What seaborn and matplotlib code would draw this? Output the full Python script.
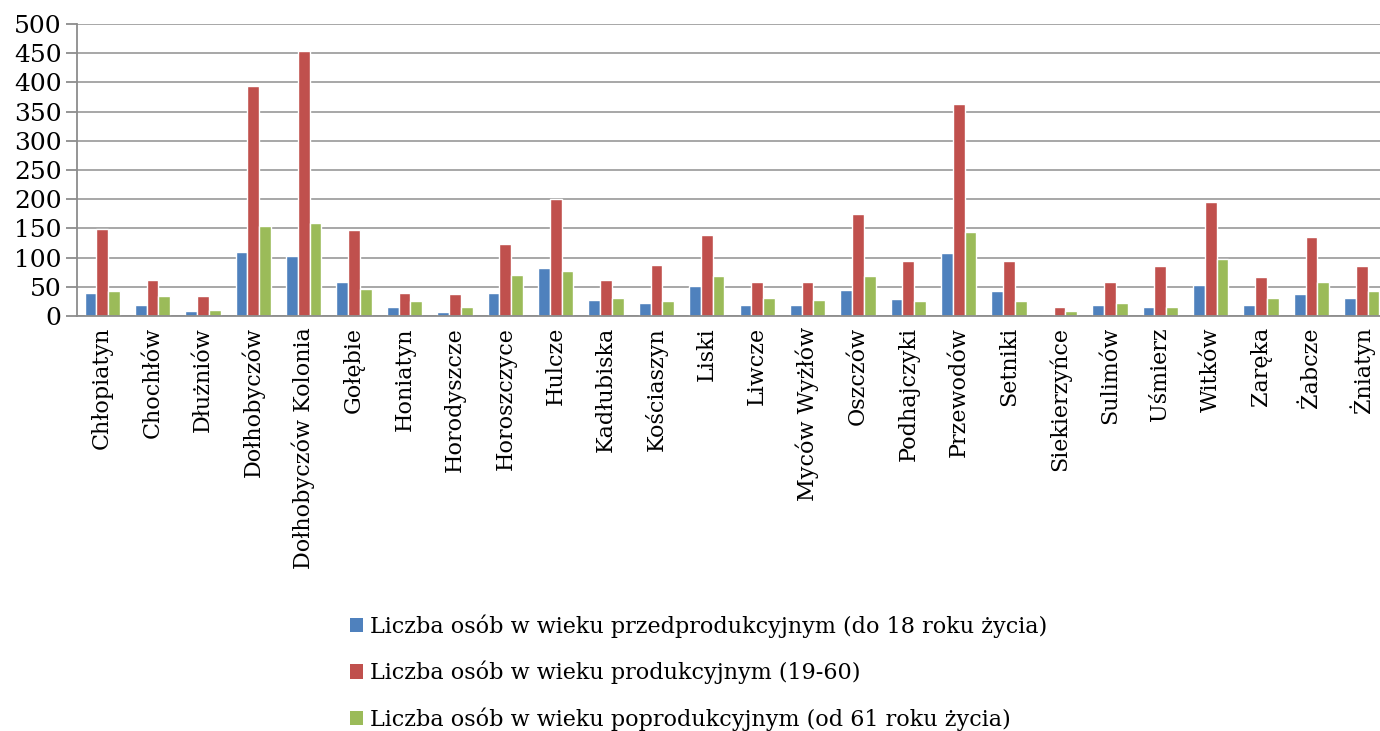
import matplotlib
matplotlib.use("Agg")
import matplotlib.pyplot as plt
import seaborn as sns
import pandas as pd
import numpy as np
from matplotlib.patches import Patch

# data
villages = ["Chłopiatyn", "Chochłów", "Dłużniów", "Dołhobyczów", "Dołhobyczów Kolonia",
            "Gołębie", "Honiatyn", "Horodyszcze", "Horoszczyce", "Hulcze", "Kadłubiska",
            "Kościaszyn", "Liski", "Liwcze", "Myców Wyżłów", "Oszczów", "Podhajczyki",
            "Przewodów", "Setniki", "Siekierzyńce", "Sulimów", "Uśmierz", "Witków",
            "Zaręka", "Żabcze", "Żniatyn"]
przed = [40, 18, 9, 110, 102, 59, 16, 7, 40, 83, 27, 22, 51, 18, 18, 45, 29,
         108, 42, 0, 18, 16, 53, 18, 38, 31]
prod = [149, 62, 34, 393, 453, 148, 40, 37, 123, 200, 62, 88, 139, 59, 59, 174, 95,
        363, 95, 16, 58, 86, 196, 66, 136, 86]
poprod = [42, 35, 11, 154, 160, 46, 25, 16, 70, 77, 31, 25, 68, 31, 27, 68, 25,
          143, 25, 9, 22, 16, 98, 31, 59, 42]

series_names = ["Liczba osób w wieku przedprodukcyjnym (do 18 roku życia)",
                "Liczba osób w wieku produkcyjnym (19-60)",
                "Liczba osób w wieku poprodukcyjnym (od 61 roku życia)"]
colors = ["#4F81BD", "#C0504D", "#9BBB59"]

df = pd.DataFrame({"wies": villages * 3,
                   "liczba": przed + prod + poprod,
                   "grupa": [series_names[0]] * 26 + [series_names[1]] * 26 + [series_names[2]] * 26})

sns.set_style("white")
plt.rcParams["font.family"] = ["DejaVu Serif"]
plt.rcParams["text.color"] = "black"
plt.rcParams["xtick.color"] = "black"
plt.rcParams["ytick.color"] = "black"

fig = plt.figure(figsize=(13.8, 7.31), dpi=100)
ax = fig.add_axes([77 / 1380, (731 - 316) / 731, 1310 / 1380, 292 / 731])

sns.barplot(data=df, x="wies", y="liczba", hue="grupa", palette=colors,
            width=0.7, saturation=1, ax=ax, legend=False, errorbar=None)

ax.set_ylim(0, 500)
ax.set_xlim(-0.5, len(villages) - 0.5)
ax.set_yticks(np.arange(0, 501, 50))
ax.yaxis.grid(True, color="#a0a0a0", linewidth=1.3)
ax.set_axisbelow(True)
ax.set_xlabel("")
ax.set_ylabel("")

for s in ["top", "right"]:
    ax.spines[s].set_visible(False)
ax.spines["left"].set_color("#8c8c8c")
ax.spines["bottom"].set_color("#8c8c8c")
ax.spines["left"].set_linewidth(1.3)
ax.spines["bottom"].set_linewidth(1.3)

ax.set_xticks(np.arange(len(villages)))
ax.set_xticklabels(villages, rotation=90, fontsize=16)
ax.tick_params(axis="x", which="major", length=0, pad=8)
ax.set_xticks(np.arange(-0.5, len(villages) - 0.5, 1), minor=True)
ax.tick_params(axis="x", which="minor", length=9, color="#8c8c8c", width=1.3, direction="out")
ax.tick_params(axis="y", length=8, color="#8c8c8c", labelcolor="black", width=1.3,
               direction="out", labelsize=18, pad=3, left=True)

handles = [Patch(facecolor=c, edgecolor="none") for c in colors]
fig.legend(handles, series_names, loc="upper left", bbox_to_anchor=(350 / 1380, 1 - 614 / 731),
           frameon=False, fontsize=16, handlelength=0.6, handleheight=0.6,
           handletextpad=0.3, labelspacing=1.05, borderpad=0, borderaxespad=0)

fig.savefig("out.png", dpi=100)
